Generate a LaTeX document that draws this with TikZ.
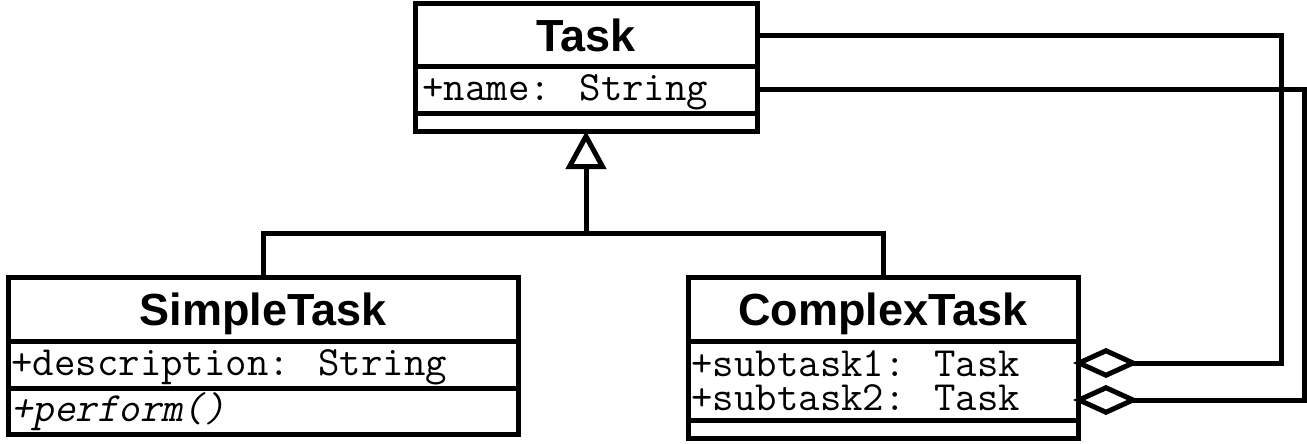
\documentclass[tikz,border=0pt]{standalone}
\usepackage{fontspec}
\setmainfont{Liberation Sans}
\newfontfamily\umlmono{Latin Modern Mono}
\newfontfamily\umlmonosl[FakeSlant=0.2]{Latin Modern Mono}
\usetikzlibrary{arrows.meta}
\begin{document}
\begin{tikzpicture}[x=1pt,y=-1pt,line width=5pt,
  comp/.style={draw,rectangle,inner sep=0pt,outer sep=0pt,anchor=north west},
  ttl/.style={font=\fontsize{45}{45}\selectfont\bfseries,inner sep=0pt,text height=32pt,text depth=0pt},
  attr/.style={font=\umlmono\fontsize{41.6}{42}\selectfont,anchor=base west,inner sep=0pt,text height=22pt,text depth=6pt},
  agg/.style={-{Diamond[open,length=66pt,width=30pt]}},
  gen/.style={-{Triangle[open,length=38pt,width=40pt]}}]
\useasboundingbox (0,0) rectangle (1307,444);
% Task
\node[comp,minimum width=342pt,minimum height=63pt] (taskT) at (415,4) {};
\node[comp,minimum width=342pt,minimum height=46pt] (taskA) at (415,67) {};
\node[comp,minimum width=342pt,minimum height=18pt] (taskO) at (415,113) {};
\node[ttl] (taskN) at (taskT.center) {Task};
\node[attr] (taskA1) at (420,100) {+name: String};
% SimpleTask
\node[comp,minimum width=510pt,minimum height=64pt] (simpleT) at (8,277) {};
\node[comp,minimum width=510pt,minimum height=47pt] (simpleA) at (8,341) {};
\node[comp,minimum width=510pt,minimum height=46pt] (simpleO) at (8,388) {};
\node[ttl] (simpleN) at (simpleT.center) {SimpleTask};
\node[attr] (simpleA1) at (9,375) {+description: String};
\node[attr,font=\umlmonosl\fontsize{41.6}{42}\selectfont] (simpleO1) at (9,421) {+perform()};
% ComplexTask
\node[comp,minimum width=390pt,minimum height=64pt] (complexT) at (688,277) {};
\node[comp,minimum width=390pt,minimum height=79pt] (complexA) at (688,341) {};
\node[comp,minimum width=390pt,minimum height=18pt] (complexO) at (688,420) {};
\node[ttl] (complexN) at (complexT.center) {ComplexTask};
\node[attr] (complexA1) at (689,376) {+subtask1: Task};
\node[attr] (complexA2) at (689,410) {+subtask2: Task};
% generalization
\coordinate (j) at (586,233);
\draw (simpleT.north) |- (j) -| (complexT.north);
\draw[gen] (j) -- (taskO.south);
% aggregations
\coordinate (c1) at (1281,0);
\coordinate (c2) at (1304,0);
\coordinate (d1) at (1073,363);
\coordinate (d2) at (1073,400);
\draw[agg] (taskT.east) -| (c1 |- d1) -- (d1);
\draw[agg] (taskA.east) -| (c2 |- d2) -- (d2);
\end{tikzpicture}
\end{document}
